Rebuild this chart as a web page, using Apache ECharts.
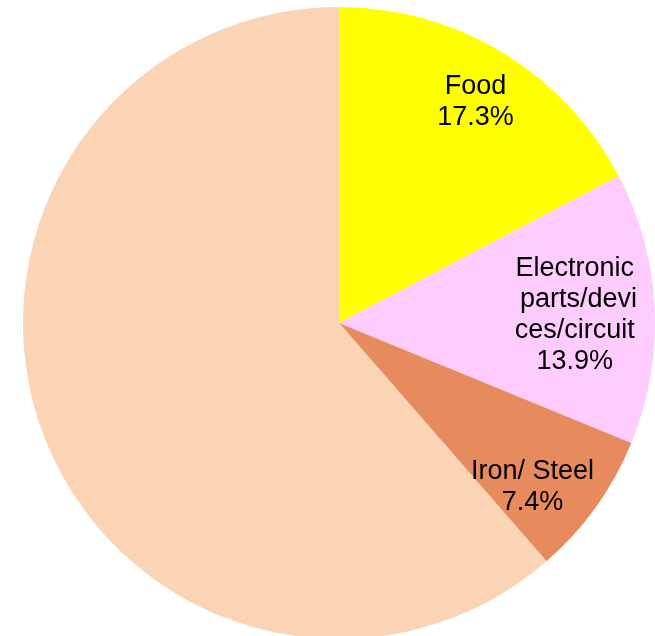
<!DOCTYPE html>
<html>
<head>
<meta charset="utf-8">
<script src="https://cdn.jsdelivr.net/npm/echarts@6/dist/echarts.min.js"></script>
<style>
  html, body { margin: 0; padding: 0; background: #fff; }
  #pie { width: 655px; height: 636px; }
</style>
</head>
<body>
<div id="pie"></div>
<script>
// slice names and shares (percent), clockwise from 12 o'clock
var categories = ["Food", "Electronic parts/devices/circuit", "Iron/ Steel", "Other"];
var shares = [17.3, 13.9, 7.4, 61.4];
var colors = ["#FFFF00", "#FFCCFF", "#E78B5E", "#FAD4B4"];
var showLabel = [true, true, true, false];

var myChart = echarts.init(document.getElementById("pie"));

var center = [339, 323];
var radius = 316;

// label nudges / wrap widths so they sit where the original has them
var labelOffsets = [[0, 5], [-28, 4], [-21, 10], [0, 0]];
var labelWidths = [150, 126, 160, 150];

var fillData = categories.map(function (name, i) {
  return { name: name, value: shares[i], itemStyle: { color: colors[i] } };
});

var labelData = categories.map(function (name, i) {
  return {
    name: name,
    value: shares[i],
    label: { show: showLabel[i], offset: labelOffsets[i], width: labelWidths[i] }
  };
});

var option = {
  animation: false,
  series: [
    {
      type: "pie",
      center: center,
      radius: [0, radius],
      startAngle: 90,
      clockwise: true,
      label: { show: false },
      labelLine: { show: false },
      itemStyle: { borderWidth: 0 },
      emphasis: { disabled: true },
      data: fillData
    },
    {
      // transparent ring only used to place labels further out
      type: "pie",
      center: center,
      radius: [206, radius],
      startAngle: 90,
      clockwise: true,
      silent: true,
      itemStyle: { color: "rgba(0,0,0,0)", borderWidth: 0 },
      emphasis: { disabled: true },
      labelLine: { show: false },
      label: {
        position: "inside",
        color: "#000",
        fontFamily: "Liberation Sans, Arial, sans-serif",
        fontSize: 27,
        lineHeight: 31,
        overflow: "breakAll",
        formatter: function (p) {
          return p.name + "\n" + p.value.toFixed(1) + "%";
        }
      },
      data: labelData
    }
  ]
};

myChart.setOption(option);
</script>
</body>
</html>
